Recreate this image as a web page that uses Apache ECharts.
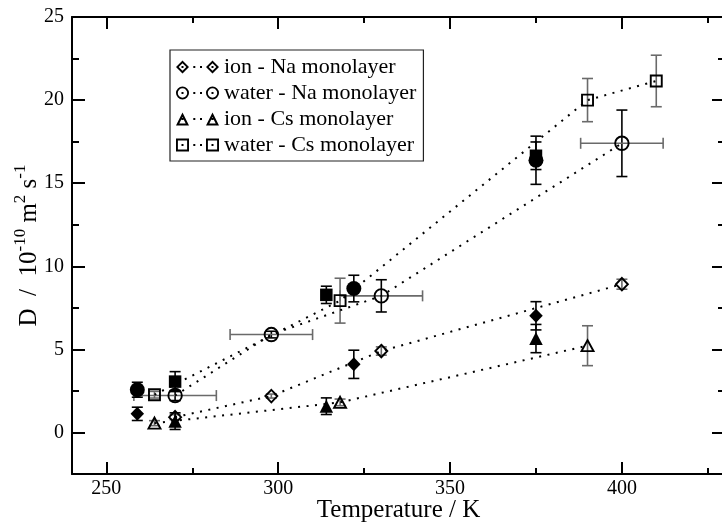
<!DOCTYPE html>
<html>
<head>
<meta charset="utf-8">
<script src="https://cdn.jsdelivr.net/npm/echarts@6/dist/echarts.min.js"></script>
<style>
  html, body { margin: 0; padding: 0; background: #fff; }
  #main { width: 722px; height: 523px; }
</style>
</head>
<body>
<div id="main"></div>
<script>
// Axis ticks: temperature (K) and diffusion coefficient (10^-10 m^2 s^-1)
const xMajorTicks = [250, 300, 350, 400];
const xMinorTicks = [275, 325, 375, 425];
const yMajorTicks = [0, 5, 10, 15, 20, 25];
const yMinorTicks = [2.5, 7.5, 12.5, 17.5, 22.5];

const seriesNames = ['ion - Na monolayer', 'water - Na monolayer', 'ion - Cs monolayer', 'water - Cs monolayer'];

// ion - Na monolayer: open diamonds joined by a dotted line
const ionNaT = [270, 298, 330, 400];
const ionNaD = [0.92, 2.19, 4.90, 8.92];
const ionNaErr = [0.15, 0.12, 0.25, 0.3];
// filled diamonds
const ionNaRefT = [259, 322, 375];
const ionNaRefD = [1.12, 4.10, 7.02];
const ionNaRefErr = [0.4, 0.85, 0.85];

// water - Na monolayer: open circles with temperature spread
const waterNaT = [270, 298, 330, 400];
const waterNaD = [2.22, 5.89, 8.22, 17.40];
const waterNaErr = [0.3, 0.2, 0.97, 2.0];
const waterNaTErr = [12, 12, 12, 12];
// filled circles
const waterNaRefT = [259, 322, 375];
const waterNaRefD = [2.57, 8.66, 16.38];
const waterNaRefErr = [0.45, 0.8, 1.45];

// ion - Cs monolayer: open triangles
const ionCsT = [264, 318, 390];
const ionCsD = [0.56, 1.81, 5.22];
const ionCsErr = [0.15, 0.2, 1.2];
// filled triangles
const ionCsRefT = [270, 314, 375];
const ionCsRefD = [0.68, 1.58, 5.65];
const ionCsRefErr = [0.5, 0.5, 0.85];

// water - Cs monolayer: open squares
const waterCsT = [264, 318, 390, 410];
const waterCsD = [2.27, 7.93, 20.0, 21.15];
const waterCsErr = [0.2, 1.35, 1.3, 1.55];
// filled squares
const waterCsRefT = [270, 314, 375];
const waterCsRefD = [3.06, 8.28, 16.65];
const waterCsRefErr = [0.6, 0.52, 0.83];

const FONT = '"Liberation Serif", "Times New Roman", serif';
const GRAY = '#6a6a6a';

function pairs(xs, ys) { return xs.map((x, i) => [x, ys[i]]); }

// Error bars (vertical, and optional horizontal) drawn with the cartesian scales
function errorBars(xs, ys, yerr, xerr, vColor, hColor) {
  const data = xs.map((x, i) => [x, ys[i], yerr[i], xerr ? xerr[i] : 0]);
  return {
    type: 'custom',
    data: data,
    z: 1,
    silent: true,
    encode: { x: 0, y: 1 },
    renderItem: function (params, api) {
      const x = api.value(0), y = api.value(1), ey = api.value(2), ex = api.value(3);
      const cap = 5.5;
      const children = [];
      const seg = (x1, y1, x2, y2, c) => children.push({
        type: 'line', shape: { x1: x1, y1: y1, x2: x2, y2: y2 },
        style: { stroke: c, lineWidth: 1.6 }
      });
      if (ey > 0) {
        const t = api.coord([x, y + ey]), b = api.coord([x, y - ey]);
        seg(t[0], t[1], b[0], b[1], vColor);
        seg(t[0] - cap, t[1], t[0] + cap, t[1], vColor);
        seg(b[0] - cap, b[1], b[0] + cap, b[1], vColor);
      }
      if (ex > 0) {
        const l = api.coord([x - ex, y]), r = api.coord([x + ex, y]);
        seg(l[0], l[1], r[0], r[1], hColor);
        seg(l[0], l[1] - cap, l[0], l[1] + cap, hColor);
        seg(r[0], r[1] - cap, r[0], r[1] + cap, hColor);
      }
      return { type: 'group', children: children };
    }
  };
}

function openSeries(name, xs, ys, symbol, size) {
  return {
    type: 'line', name: name, data: pairs(xs, ys), z: 3,
    symbol: symbol, symbolSize: size, showSymbol: true, showAllSymbol: true,
    itemStyle: { color: 'rgba(0,0,0,0)', borderColor: '#000', borderWidth: 1.9, opacity: 1 },
    lineStyle: { color: '#000', width: 2, type: [2, 6.5], cap: 'butt', opacity: 1 },
    emphasis: { disabled: true }, silent: true
  };
}

function filledSeries(name, xs, ys, symbol, size) {
  return {
    type: 'scatter', name: name, data: pairs(xs, ys), z: 4,
    symbol: symbol, symbolSize: size,
    itemStyle: { color: '#000', opacity: 1 },
    emphasis: { disabled: true }, silent: true
  };
}

// Legend icons: marker, two dots, marker (43 x 13 box, markers 30 px apart)
const H = 6.5;          // marker half size
const C = 6.5;          // vertical centre
const dots = 'M17.3 5.5h2v2h-2Z M24 5.5h2v2h-2Z';
function centerDot(cx) { return 'M' + (cx - 1) + ' 5.5h2v2h-2Z'; }
function diamondIcon(cx) {
  const i = H - 2.7;
  return 'M' + (cx - H) + ' ' + C + 'L' + cx + ' 0L' + (cx + H) + ' ' + C + 'L' + cx + ' 13Z' +
    'M' + (cx - i) + ' ' + C + 'L' + cx + ' ' + (C + i) + 'L' + (cx + i) + ' ' + C + 'L' + cx + ' ' + (C - i) + 'Z' +
    centerDot(cx);
}
function circleIcon(cx) {
  const r = H - 1.8;
  return 'M' + (cx - H) + ' ' + C + 'A' + H + ' ' + H + ' 0 1 1 ' + (cx + H) + ' ' + C +
    'A' + H + ' ' + H + ' 0 1 1 ' + (cx - H) + ' ' + C + 'Z' +
    'M' + (cx - r) + ' ' + C + 'A' + r + ' ' + r + ' 0 1 0 ' + (cx + r) + ' ' + C +
    'A' + r + ' ' + r + ' 0 1 0 ' + (cx - r) + ' ' + C + 'Z' + centerDot(cx);
}
function triangleIcon(cx) {
  return 'M' + cx + ' 0L' + (cx + H) + ' 13L' + (cx - H) + ' 13Z' +
    'M' + cx + ' 4.5L' + (cx - 3.2) + ' 11L' + (cx + 3.2) + ' 11Z' + centerDot(cx);
}
function squareIcon(cx) {
  return 'M' + (cx - H) + ' 0h13v13h-13Z' +
    'M' + (cx - H + 1.9) + ' 1.9v9.2h9.2v-9.2Z' + centerDot(cx);
}
const legendIcons = [
  'path://' + diamondIcon(6.5) + diamondIcon(36.5) + dots,
  'path://' + circleIcon(6.5) + circleIcon(36.5) + dots,
  'path://' + triangleIcon(6.5) + triangleIcon(36.5) + dots,
  'path://' + squareIcon(6.5) + squareIcon(36.5) + dots
];

function xAxisDef(position, ticks, len, withLabels, withLine) {
  return {
    type: 'value', min: 240, max: 430, position: position,
    axisLine: { show: withLine, onZero: false, lineStyle: { color: '#000', width: 2 } },
    axisTick: { show: true, inside: true, length: len, customValues: ticks, lineStyle: { color: '#000', width: 2 } },
    axisLabel: withLabels
      ? { show: true, customValues: ticks, margin: 5, color: '#000', fontFamily: FONT, fontSize: 20 }
      : { show: false },
    splitLine: { show: false }
  };
}
function yAxisDef(position, ticks, len, withLabels, withLine) {
  return {
    type: 'value', min: -2.5, max: 25, position: position,
    axisLine: { show: withLine, onZero: false, lineStyle: { color: '#000', width: 2 } },
    axisTick: { show: true, inside: true, length: len, customValues: ticks, lineStyle: { color: '#000', width: 2 } },
    axisLabel: withLabels
      ? { show: true, customValues: ticks, margin: 8, color: '#000', fontFamily: FONT, fontSize: 20 }
      : { show: false },
    splitLine: { show: false }
  };
}

const xAxes = [
  Object.assign(xAxisDef('bottom', xMajorTicks, 12, true, true), {
    name: 'Temperature / K', nameLocation: 'middle', nameGap: 24, nameMoveOverlap: false,
    nameTextStyle: { color: '#000', fontFamily: FONT, fontSize: 25 }
  }),
  xAxisDef('bottom', xMinorTicks, 6, false, false),
  xAxisDef('top', xMajorTicks, 12, false, true),
  xAxisDef('top', xMinorTicks, 6, false, false)
];
const yAxes = [
  Object.assign(yAxisDef('left', yMajorTicks, 13, true, true), {
    name: '{m|D  /  10}{s|-10}{m| m}{s|2}{m| s}{s|-1}',
    nameLocation: 'middle', nameGap: 25, nameMoveOverlap: false,
    nameTextStyle: {
      color: '#000', fontFamily: FONT, fontSize: 25,
      rich: {
        m: { fontFamily: FONT, fontSize: 25, lineHeight: 35, color: '#000' },
        s: { fontFamily: FONT, fontSize: 17, lineHeight: 17, verticalAlign: 'top', color: '#000' }
      }
    }
  }),
  yAxisDef('left', yMinorTicks, 7, false, false),
  yAxisDef('right', yMajorTicks, 13, false, true),
  yAxisDef('right', yMinorTicks, 7, false, false)
];

const series = [
  errorBars(ionNaT, ionNaD, ionNaErr, null, GRAY, GRAY),
  errorBars(ionNaRefT, ionNaRefD, ionNaRefErr, null, '#000', '#000'),
  errorBars(waterNaT, waterNaD, waterNaErr, waterNaTErr, '#000', GRAY),
  errorBars(waterNaRefT, waterNaRefD, waterNaRefErr, null, '#000', '#000'),
  errorBars(ionCsT, ionCsD, ionCsErr, null, GRAY, GRAY),
  errorBars(ionCsRefT, ionCsRefD, ionCsRefErr, null, '#000', '#000'),
  errorBars(waterCsT, waterCsD, waterCsErr, null, GRAY, GRAY),
  errorBars(waterCsRefT, waterCsRefD, waterCsRefErr, null, '#000', '#000'),

  openSeries(seriesNames[0], ionNaT, ionNaD, 'diamond', [12, 12.5]),
  openSeries(seriesNames[1], waterNaT, waterNaD, 'circle', 13.5),
  openSeries(seriesNames[2], ionCsT, ionCsD, 'triangle', [12, 11]),
  openSeries(seriesNames[3], waterCsT, waterCsD, 'rect', 11),

  filledSeries('ion - Na (filled)', ionNaRefT, ionNaRefD, 'diamond', [13.5, 14]),
  filledSeries('water - Na (filled)', waterNaRefT, waterNaRefD, 'circle', 15),
  filledSeries('ion - Cs (filled)', ionCsRefT, ionCsRefD, 'triangle', [13.5, 13]),
  filledSeries('water - Cs (filled)', waterCsRefT, waterCsRefD, 'rect', 12.5)
];

const chart = echarts.init(document.getElementById('main'), null, { renderer: 'canvas' });
chart.setOption({
  animation: false,
  backgroundColor: '#fff',
  grid: { left: 72, right: -3, top: 17, bottom: 49, containLabel: false, outerBoundsMode: 'none' },
  xAxis: xAxes,
  yAxis: yAxes,
  legend: {
    orient: 'vertical', left: 170, top: 50,
    data: seriesNames.map((n, i) => ({ name: n, icon: legendIcons[i] })),
    itemWidth: 43, itemHeight: 13, itemGap: 4,
    padding: [6, 7, 5, 6],
    backgroundColor: '#fff', borderColor: '#222', borderWidth: 1.2,
    textStyle: { color: '#000', fontFamily: FONT, fontSize: 22 },
    itemStyle: { color: '#000', borderWidth: 0, borderColor: 'rgba(0,0,0,0)' },
    symbolKeepAspect: true,
    selectedMode: false
  },
  series: series
});
</script>
</body>
</html>
